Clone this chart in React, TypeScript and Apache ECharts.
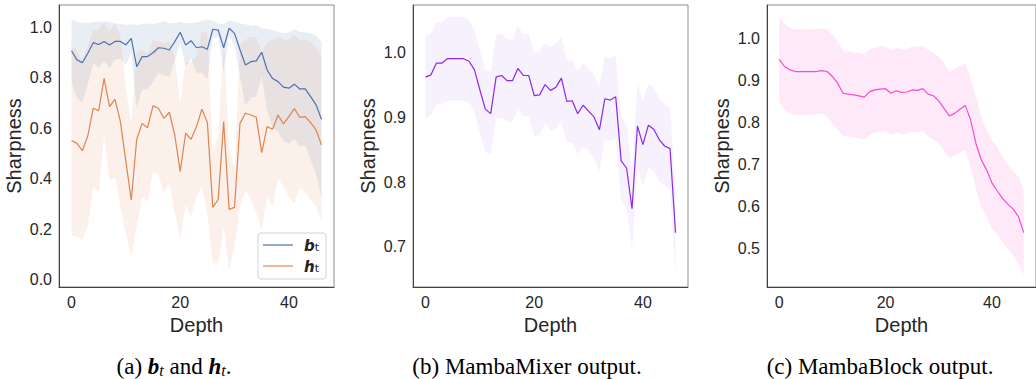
import React, { useEffect, useRef } from "react";
import * as echarts from "echarts";

// Depth index (layers 0..46)
const depth = Array.from({ length: 47 }, (_, i) => i);
const depthTicks = [0, 20, 40];

// (a) b_t
const bMean = [0.906,0.870,0.859,0.896,0.938,0.931,0.943,0.929,0.943,0.943,0.929,0.955,0.843,0.883,0.883,0.898,0.918,0.916,0.909,0.942,0.979,0.929,0.946,0.918,0.922,0.912,0.991,0.988,0.918,0.995,0.975,0.910,0.850,0.863,0.866,0.900,0.830,0.796,0.784,0.762,0.758,0.774,0.755,0.755,0.725,0.692,0.635];
const bHi = [1.030,1.021,1.017,1.017,1.020,1.021,1.021,1.020,1.014,1.012,1.008,1.012,1.008,1.012,1.014,1.012,1.017,1.024,1.014,1.017,1.021,1.014,1.017,1.017,1.025,1.030,1.025,1.014,1.012,1.025,1.021,1.014,1.011,1.004,1.008,0.995,0.991,0.988,0.981,0.975,0.978,0.991,0.981,0.978,0.975,0.964,0.942];
const bLo = [0.782,0.719,0.701,0.775,0.856,0.841,0.865,0.838,0.872,0.874,0.850,0.898,0.678,0.754,0.752,0.784,0.819,0.808,0.804,0.867,0.937,0.844,0.875,0.819,0.819,0.794,0.957,0.962,0.824,0.965,0.929,0.806,0.689,0.722,0.724,0.805,0.669,0.604,0.587,0.549,0.538,0.557,0.529,0.532,0.475,0.420,0.328];

// (a) h_t
const hMean = [0.551,0.540,0.511,0.569,0.679,0.669,0.797,0.685,0.714,0.626,0.470,0.316,0.556,0.619,0.602,0.688,0.679,0.639,0.663,0.573,0.428,0.580,0.556,0.606,0.675,0.622,0.287,0.319,0.626,0.279,0.287,0.619,0.659,0.652,0.643,0.503,0.606,0.596,0.652,0.617,0.646,0.677,0.643,0.646,0.622,0.593,0.534];
const hHi = [0.924,0.909,0.864,0.927,0.989,0.989,1.021,0.981,1.015,0.962,0.756,0.620,0.901,0.909,0.894,0.948,0.943,0.935,0.944,0.882,0.691,0.864,0.862,0.882,0.981,0.975,0.508,0.572,0.950,0.518,0.442,0.930,0.950,0.960,0.960,0.900,0.940,0.950,0.960,0.950,0.950,0.970,0.950,0.950,0.940,0.920,0.880];
const hLo = [0.178,0.171,0.158,0.211,0.369,0.349,0.573,0.389,0.408,0.290,0.184,0.092,0.211,0.329,0.310,0.428,0.415,0.343,0.382,0.264,0.165,0.296,0.250,0.330,0.369,0.264,0.066,0.066,0.211,0.040,0.132,0.290,0.356,0.316,0.264,0.198,0.329,0.290,0.402,0.369,0.329,0.303,0.369,0.343,0.316,0.290,0.230];

// (b) MambaMixer output
const mixMean = [0.9625,0.966,0.984,0.984,0.991,0.991,0.991,0.991,0.987,0.974,0.943,0.913,0.906,0.963,0.965,0.957,0.957,0.976,0.965,0.965,0.934,0.935,0.951,0.942,0.947,0.961,0.925,0.926,0.906,0.919,0.910,0.901,0.881,0.929,0.927,0.932,0.833,0.822,0.759,0.887,0.858,0.888,0.882,0.866,0.856,0.852,0.722];
const mixHi = [1.025,1.030,1.047,1.048,1.055,1.056,1.056,1.056,1.051,1.035,1.005,0.974,0.971,1.028,1.030,1.021,1.021,1.041,1.029,1.029,1.000,1.002,1.015,1.010,1.015,1.025,0.989,0.990,0.971,0.984,0.976,0.966,0.948,0.994,0.992,0.995,0.902,0.886,0.819,0.953,0.925,0.953,0.946,0.930,0.920,0.915,0.789];
const mixLo = [0.899,0.904,0.920,0.921,0.926,0.926,0.926,0.926,0.922,0.909,0.876,0.848,0.843,0.899,0.899,0.894,0.894,0.912,0.902,0.902,0.871,0.873,0.892,0.879,0.884,0.894,0.861,0.862,0.843,0.855,0.848,0.838,0.817,0.866,0.864,0.868,0.773,0.758,0.696,0.822,0.794,0.822,0.817,0.801,0.794,0.789,0.657];

// (c) MambaBlock output
const blkMean = [0.951,0.934,0.926,0.922,0.922,0.922,0.922,0.922,0.924,0.922,0.910,0.894,0.870,0.868,0.866,0.864,0.861,0.874,0.878,0.880,0.881,0.870,0.876,0.872,0.873,0.878,0.877,0.881,0.868,0.864,0.852,0.834,0.816,0.822,0.832,0.841,0.806,0.750,0.711,0.687,0.656,0.637,0.619,0.605,0.593,0.575,0.537];
const blkHi = [1.053,1.036,1.026,1.023,1.023,1.023,1.023,1.024,1.025,1.023,1.010,0.994,0.972,0.970,0.968,0.966,0.964,0.975,0.979,0.982,0.982,0.972,0.978,0.975,0.975,0.982,0.980,0.983,0.974,0.967,0.958,0.942,0.919,0.930,0.935,0.943,0.906,0.862,0.814,0.782,0.758,0.742,0.718,0.699,0.683,0.671,0.639];
const blkLo = [0.850,0.830,0.822,0.818,0.818,0.818,0.818,0.820,0.821,0.814,0.798,0.782,0.768,0.766,0.765,0.762,0.760,0.770,0.776,0.778,0.780,0.770,0.776,0.772,0.774,0.778,0.777,0.780,0.766,0.760,0.749,0.734,0.715,0.722,0.728,0.734,0.694,0.643,0.599,0.575,0.547,0.535,0.515,0.499,0.483,0.463,0.435];

const yTicksA = [0, 0.2, 0.4, 0.6, 0.8, 1.0];
const yTicksB = [0.7, 0.8, 0.9, 1.0];
const yTicksC = [0.5, 0.6, 0.7, 0.8, 0.9, 1.0];

const SANS = '"Liberation Sans", Arial, Helvetica, sans-serif';
const SERIF = '"Liberation Serif", "Times New Roman", serif';
const TXT = "#262626";

// Confidence band drawn as one polygon through the axis scales
function band(idx: number, lo: number[], hi: number[], color: string, opacity: number) {
  return {
    type: "custom", xAxisIndex: idx, yAxisIndex: idx, silent: true, clip: true, z: 1,
    data: depth.map((d, i) => [d, lo[i], hi[i]]),
    renderItem: (params: any, api: any) => {
      if (params.dataIndex !== 0) return null;
      const top = depth.map((d, i) => api.coord([d, hi[i]]));
      const bot = depth.map((d, i) => api.coord([d, lo[i]])).reverse();
      return {
        type: "polygon",
        shape: { points: top.concat(bot) },
        style: { fill: color, opacity },
      };
    },
  };
}

function line(idx: number, vals: number[], color: string) {
  return {
    type: "line", xAxisIndex: idx, yAxisIndex: idx, symbol: "none", silent: true,
    lineStyle: { color, width: 1.2 }, data: depth.map((d, i) => [d, vals[i]]), z: 3,
  };
}

function xAx(idx: number) {
  return {
    gridIndex: idx, type: "value", min: -2.3, max: 48.3,
    axisLine: { show: true, onZero: false, lineStyle: { color: "#444", width: 1 } },
    axisTick: { show: false }, splitLine: { show: false },
    axisLabel: { customValues: depthTicks, fontSize: 16, color: TXT, fontFamily: SANS, margin: 7 },
    name: "Depth", nameLocation: "middle", nameGap: 18,
    nameTextStyle: { fontSize: 20, color: TXT, fontFamily: SANS },
  };
}

function yAx(idx: number, min: number, max: number, ticks: number[]) {
  return {
    gridIndex: idx, type: "value", min, max,
    axisLine: { show: true, onZero: false, lineStyle: { color: "#444", width: 1 } },
    axisTick: { show: false }, splitLine: { show: false },
    axisLabel: { customValues: ticks, formatter: (v: number) => v.toFixed(1), fontSize: 16, color: TXT, fontFamily: SANS, margin: 7 },
    name: "Sharpness", nameLocation: "middle", nameGap: 35,
    nameTextStyle: { fontSize: 20, color: TXT, fontFamily: SANS },
  };
}

const capRich = {
  n: { fontFamily: SERIF, fontSize: 23, fill: "#000", lineHeight: 24, verticalAlign: "bottom" },
  m: { fontFamily: SERIF, fontSize: 23, fontWeight: "bold", fontStyle: "italic", fill: "#000", lineHeight: 24, verticalAlign: "bottom" },
  s: { fontFamily: SERIF, fontSize: 16, fontStyle: "italic", fill: "#000", lineHeight: 6, verticalAlign: "bottom" },
};

const legRich = {
  m: { fontFamily: '"DejaVu Sans", sans-serif', fontSize: 15, fontWeight: "bold", fontStyle: "italic", fill: "#222", lineHeight: 16, verticalAlign: "bottom" },
  s: { fontFamily: '"DejaVu Sans", sans-serif', fontSize: 11, fill: "#222", lineHeight: 6, verticalAlign: "bottom" },
};

export default function App() {
  const ref = useRef<HTMLDivElement>(null);
  useEffect(() => {
    if (!ref.current) return;
    const chart = echarts.init(ref.current, undefined, { renderer: "svg" });
    const gridBase = { show: true, borderColor: "#8c8c8c", borderWidth: 1, backgroundColor: "transparent" };
    chart.setOption({
      animation: false,
      backgroundColor: "#ffffff",
      grid: [
        { ...gridBase, left: 59, top: 5, width: 275, height: 282 },
        { ...gridBase, left: 413, top: 5, width: 275, height: 282 },
        { ...gridBase, left: 767, top: 5, width: 275, height: 282 },
      ],
      xAxis: [xAx(0), xAx(1), xAx(2)],
      yAxis: [
        yAx(0, -0.028, 1.087, yTicksA),
        yAx(1, 0.638, 1.074, yTicksB),
        yAx(2, 0.407, 1.081, yTicksC),
      ],
      series: [
        band(0, bLo, bHi, "#4c72b0", 0.12),
        band(0, hLo, hHi, "#dd8452", 0.12),
        line(0, bMean, "#4c72b0"),
        line(0, hMean, "#dd8452"),
        band(1, mixLo, mixHi, "#8a2be2", 0.07),
        line(1, mixMean, "#8a2be2"),
        band(2, blkLo, blkHi, "#f74ccb", 0.12),
        line(2, blkMean, "#f74ccb"),
      ],
      graphic: [
        {
          type: "rect", z: 100, shape: { x: 258, y: 233, width: 68, height: 46, r: 3 },
          style: { fill: "rgba(255,255,255,0.85)", stroke: "#d4d4d4", lineWidth: 1 },
        },
        { type: "line", z: 101, shape: { x1: 263, y1: 245, x2: 293, y2: 245 }, style: { stroke: "#4c72b0", lineWidth: 1.2 } },
        { type: "line", z: 101, shape: { x1: 263, y1: 266, x2: 293, y2: 266 }, style: { stroke: "#eba47e", lineWidth: 1.6 } },
        { type: "text", z: 101, x: 304, y: 245, style: { text: "{m|b}{s|t}", rich: legRich, verticalAlign: "middle", align: "left" } },
        { type: "text", z: 101, x: 304, y: 266, style: { text: "{m|h}{s|t}", rich: legRich, verticalAlign: "middle", align: "left" } },
        { type: "text", z: 101, x: 174, y: 366, style: { text: "{n|(a) }{m|b}{s|t}{n| and }{m|h}{s|t}{n|.}", rich: capRich, align: "center", verticalAlign: "middle" } },
        { type: "text", z: 101, x: 527, y: 366, style: { text: "(b) MambaMixer output.", fontFamily: SERIF, fontSize: 23, fill: "#000", align: "center", verticalAlign: "middle" } },
        { type: "text", z: 101, x: 880, y: 366, style: { text: "(c) MambaBlock output.", fontFamily: SERIF, fontSize: 23, fill: "#000", align: "center", verticalAlign: "middle" } },
      ],
    });
    return () => chart.dispose();
  }, []);
  return <div ref={ref} style={{ position: "absolute", left: 0, top: 0, width: 1036, height: 379 }} />;
}
